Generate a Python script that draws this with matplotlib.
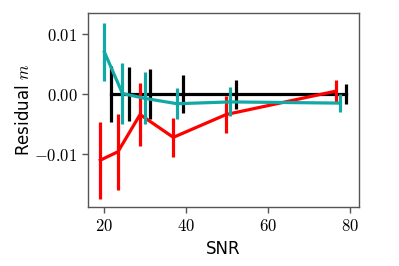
import matplotlib
matplotlib.use("Agg")
import matplotlib.pyplot as plt
from matplotlib.ticker import FuncFormatter

plt.rcParams['mathtext.fontset'] = 'cm'

# Black series (reference)
snr_black = [21.6, 25.9, 31.2, 39.2, 52.1, 78.9]
res_black = [0.0, 0.0, 0.0, 0.0, 0.0, 0.0]
err_black = [0.0047, 0.0045, 0.0041, 0.0031, 0.0024, 0.0016]

# Cyan series
snr_cyan = [20.0, 24.4, 29.8, 37.7, 50.7, 77.4]
res_cyan = [0.0070, 0.0001, -0.0007, -0.0016, -0.0013, -0.0015]
err_cyan = [0.0049, 0.0051, 0.0043, 0.0026, 0.0024, 0.0015]

# Red series
snr_red = [19.0, 23.3, 28.7, 36.8, 49.7, 76.5]
res_red = [-0.0110, -0.0096, -0.0034, -0.0072, -0.0034, 0.0005]
err_red = [0.0064, 0.0063, 0.0052, 0.0032, 0.0031, 0.0018]

xticks = [20, 40, 60, 80]
yticks = [-0.01, 0.0, 0.01]

fig = plt.figure(figsize=(3.99, 2.66), dpi=100)
ax = fig.add_axes([0.2206, 0.2218, 0.6791, 0.7292])

lw = 2.3
ax.errorbar(snr_black, res_black, yerr=err_black, color='black', lw=lw, elinewidth=lw, capsize=0, zorder=2)
ax.errorbar(snr_red, res_red, yerr=err_red, color='#ff0000', lw=lw, elinewidth=lw, capsize=0, zorder=3)
ax.errorbar(snr_cyan, res_cyan, yerr=err_cyan, color='#11a9a5', lw=lw, elinewidth=lw, capsize=0, zorder=4)

ax.set_xlim(16.0, 82.1)
ax.set_ylim(-0.0188, 0.0135)
ax.set_xticks(xticks)
ax.set_yticks(yticks)
ax.xaxis.set_major_formatter(FuncFormatter(lambda v, p: r'$%d$' % v))
ax.yaxis.set_major_formatter(FuncFormatter(lambda v, p: r'$%.2f$' % v))
ax.tick_params(labelsize=12, color='#555555', length=4, width=1)
for s in ax.spines.values():
    s.set_color('#555555')
    s.set_linewidth(1)

ax.set_xlabel('SNR', fontsize=12, labelpad=3)
ax.set_ylabel('Residual $m$', fontsize=12, labelpad=1)

fig.savefig('out.png', dpi=100)
